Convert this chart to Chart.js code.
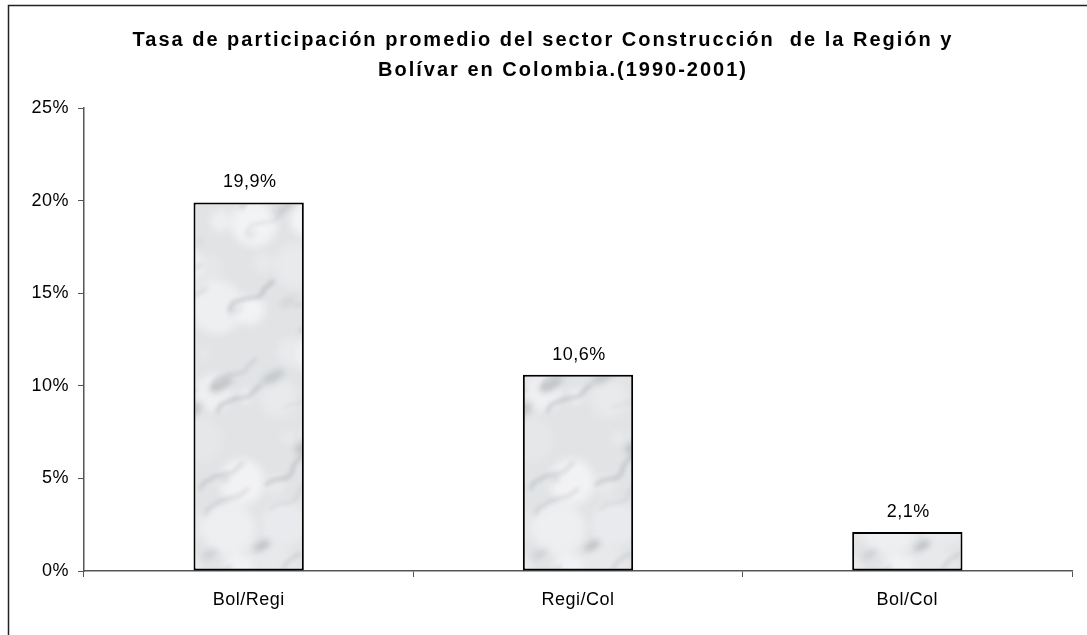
<!DOCTYPE html>
<html>
<head>
<meta charset="utf-8">
<script src="https://cdn.jsdelivr.net/npm/chart.js@4/dist/chart.umd.min.js"></script>
<style>
  html, body { margin: 0; padding: 0; background: #fff; }
  #wrap { width: 1087px; height: 635px; position: relative; }
</style>
</head>
<body>
<div id="wrap"><canvas id="chart" width="1087" height="635"></canvas></div>
<script>
// ---- Datos del gráfico ----
const categories = ["Bol/Regi", "Regi/Col", "Bol/Col"];
const values = [19.9, 10.6, 2.1];
const titleLines = [
    "Tasa de participación promedio del sector Construcción  de la Región y",
    "Bolívar en Colombia.(1990-2001)"
];
const yTicks = [0, 5, 10, 15, 20, 25];

const FONT = "'Liberation Sans', Arial, sans-serif";

// ---- Textura tipo mármol para las barras ----
function marblePattern(ctx) {
    const W = 330, H = 480;
    const c = document.createElement("canvas");
    c.width = W; c.height = H;
    const g = c.getContext("2d");
    g.fillStyle = "#e1e3e5";
    g.fillRect(0, 0, W, H);

    // repetir cada forma en los bordes para que no se vean cortes
    const tiled = draw => {
        for (const dx of [-W, 0, W]) for (const dy of [-H, 0, H]) draw(dx, dy);
    };

    // manchas claras
    g.filter = "blur(4px)";
    for (let i = 0; i < 70; i++) {
        const x = (i * 71) % W, y = (i * 131) % H;
        const r = 7 + (i % 6) * 4;
        g.fillStyle = `rgba(250,250,252,${0.45 + 0.25 * Math.sin(i * 0.9)})`;
        tiled((dx, dy) => {
            g.beginPath();
            g.arc(x + dx, y + dy, r, 0, Math.PI * 2);
            g.fill();
        });
    }
    // manchas grises difusas
    g.filter = "blur(3px)";
    for (let i = 0; i < 40; i++) {
        const x = (i * 89 + 17) % W, y = (i * 59 + 31) % H;
        const r = 2 + (i % 4) * 1.5;
        g.fillStyle = `rgba(120,125,130,${0.25 + 0.15 * Math.cos(i)})`;
        tiled((dx, dy) => {
            g.beginPath();
            g.ellipse(x + dx, y + dy, r * 2.5, r, -0.5, 0, Math.PI * 2);
            g.fill();
        });
    }
    // vetas grises diagonales
    g.filter = "blur(2px)";
    for (let i = 0; i < 45; i++) {
        const x0 = (i * 53) % W, y0 = (i * 97) % H;
        const a = 0.18 + 0.16 * Math.abs(Math.sin(i * 1.7));
        g.strokeStyle = `rgba(105,110,118,${a})`;
        g.lineWidth = 1.2 + (i % 3) * 0.8;
        tiled((dx, dy) => {
            g.beginPath();
            g.moveTo(x0 + dx, y0 + dy);
            for (let k = 1; k <= 6; k++) {
                g.lineTo(x0 + dx + k * 8 + 5 * Math.sin(i + k * 1.3),
                         y0 + dy - k * 5 + 4 * Math.cos(i * 2 + k));
            }
            g.stroke();
        });
    }
    return ctx.createPattern(c, "repeat");
}

// ---- Marco, título y etiquetas de datos ----
const decorPlugin = {
    id: "decor",
    beforeDraw(chart) {
        const ctx = chart.ctx;
        ctx.save();
        ctx.fillStyle = "#fff";
        ctx.fillRect(0, 0, chart.width, chart.height);
        ctx.strokeStyle = "#222";
        ctx.lineWidth = 1.5;
        ctx.strokeRect(8.5, 5.5, chart.width + 20, chart.height + 20);
        ctx.restore();
        // espaciado de letras para las etiquetas de los ejes
        ctx.letterSpacing = "0.5px";
    },
    afterDraw(chart) {
        const ctx = chart.ctx;
        ctx.save();
        ctx.fillStyle = "#000";
        ctx.textAlign = "center";
        ctx.textBaseline = "alphabetic";
        ctx.font = "bold 20px " + FONT;
        ctx.letterSpacing = "2px";
        ctx.fillText(titleLines[0], 543, 46);
        ctx.fillText(titleLines[1], 563, 76);

        ctx.font = "18px " + FONT;
        ctx.letterSpacing = "0.5px";
        const meta = chart.getDatasetMeta(0);
        meta.data.forEach((bar, i) => {
            const txt = values[i].toFixed(1).replace(".", ",") + "%";
            ctx.fillText(txt, bar.x + 1, bar.y - 15);
        });
        ctx.restore();
    }
};

const canvas = document.getElementById("chart");
const ctx = canvas.getContext("2d");

new Chart(canvas, {
    type: "bar",
    data: {
        labels: categories,
        datasets: [{
            data: values,
            backgroundColor: marblePattern(ctx),
            borderColor: "#000",
            borderWidth: 2,
            borderSkipped: false,
            categoryPercentage: 1,
            barPercentage: 0.335
        }]
    },
    options: {
        responsive: false,
        animation: false,
        events: [],
        layout: { padding: { top: 108, right: 15, left: 0, bottom: 0 } },
        plugins: {
            legend: { display: false },
            tooltip: { enabled: false },
            title: { display: false }
        },
        scales: {
            x: {
                grid: {
                    offset: true,
                    drawOnChartArea: false,
                    drawTicks: true,
                    tickLength: 6,
                    color: "#555"
                },
                border: { display: true, color: "#555", width: 1.5 },
                ticks: {
                    color: "#000",
                    font: { family: FONT, size: 18 },
                    padding: 12
                },
                afterFit(axis) { axis.height = 64; }
            },
            y: {
                min: 0,
                max: 25,
                afterBuildTicks(axis) { axis.ticks = yTicks.map(v => ({ value: v })); },
                grid: {
                    drawOnChartArea: false,
                    drawTicks: true,
                    tickLength: 6,
                    color: "#555"
                },
                border: { display: true, color: "#555", width: 1.5 },
                ticks: {
                    color: "#000",
                    font: { family: FONT, size: 18 },
                    padding: 9,
                    callback: v => v + "%"
                },
                afterFit(axis) { axis.width = 84; }
            }
        }
    },
    plugins: [decorPlugin]
});
</script>
</body>
</html>
